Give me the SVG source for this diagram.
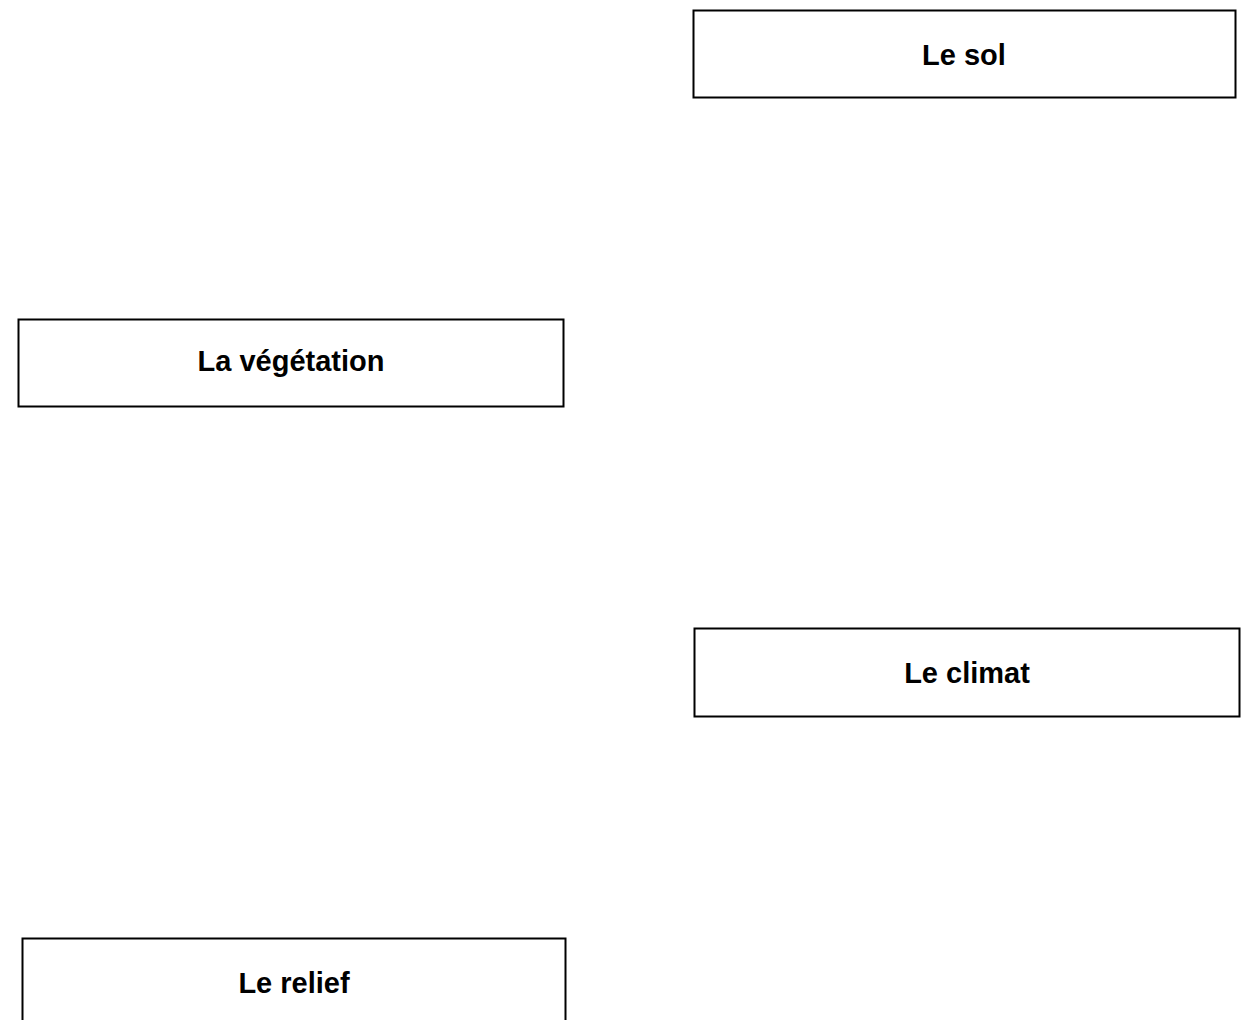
<svg xmlns="http://www.w3.org/2000/svg" width="1249" height="1020" viewBox="0 0 1249 1020">
<style>
.box{fill:#fff;stroke:#000;stroke-width:2}
.lbl{font-family:"Liberation Sans",Arial,sans-serif;font-weight:bold;font-size:29px;text-anchor:middle;fill:#000}
</style>
<rect width="1249" height="1020" fill="#fff"/>
<g id="connectors"></g>
<g id="sol"><rect class="box" x="693.5" y="10.5" width="542" height="87"/><text class="lbl" x="964" y="65">Le sol</text></g>
<g id="vegetation"><rect class="box" x="18.5" y="319.5" width="545" height="87"/><text class="lbl" x="291" y="371">La végétation</text></g>
<g id="climat"><rect class="box" x="694.5" y="628.5" width="545" height="88"/><text class="lbl" x="967" y="683">Le climat</text></g>
<g id="relief"><rect class="box" x="22.5" y="938.5" width="543" height="88"/><text class="lbl" x="294" y="993">Le relief</text></g>
</svg>
